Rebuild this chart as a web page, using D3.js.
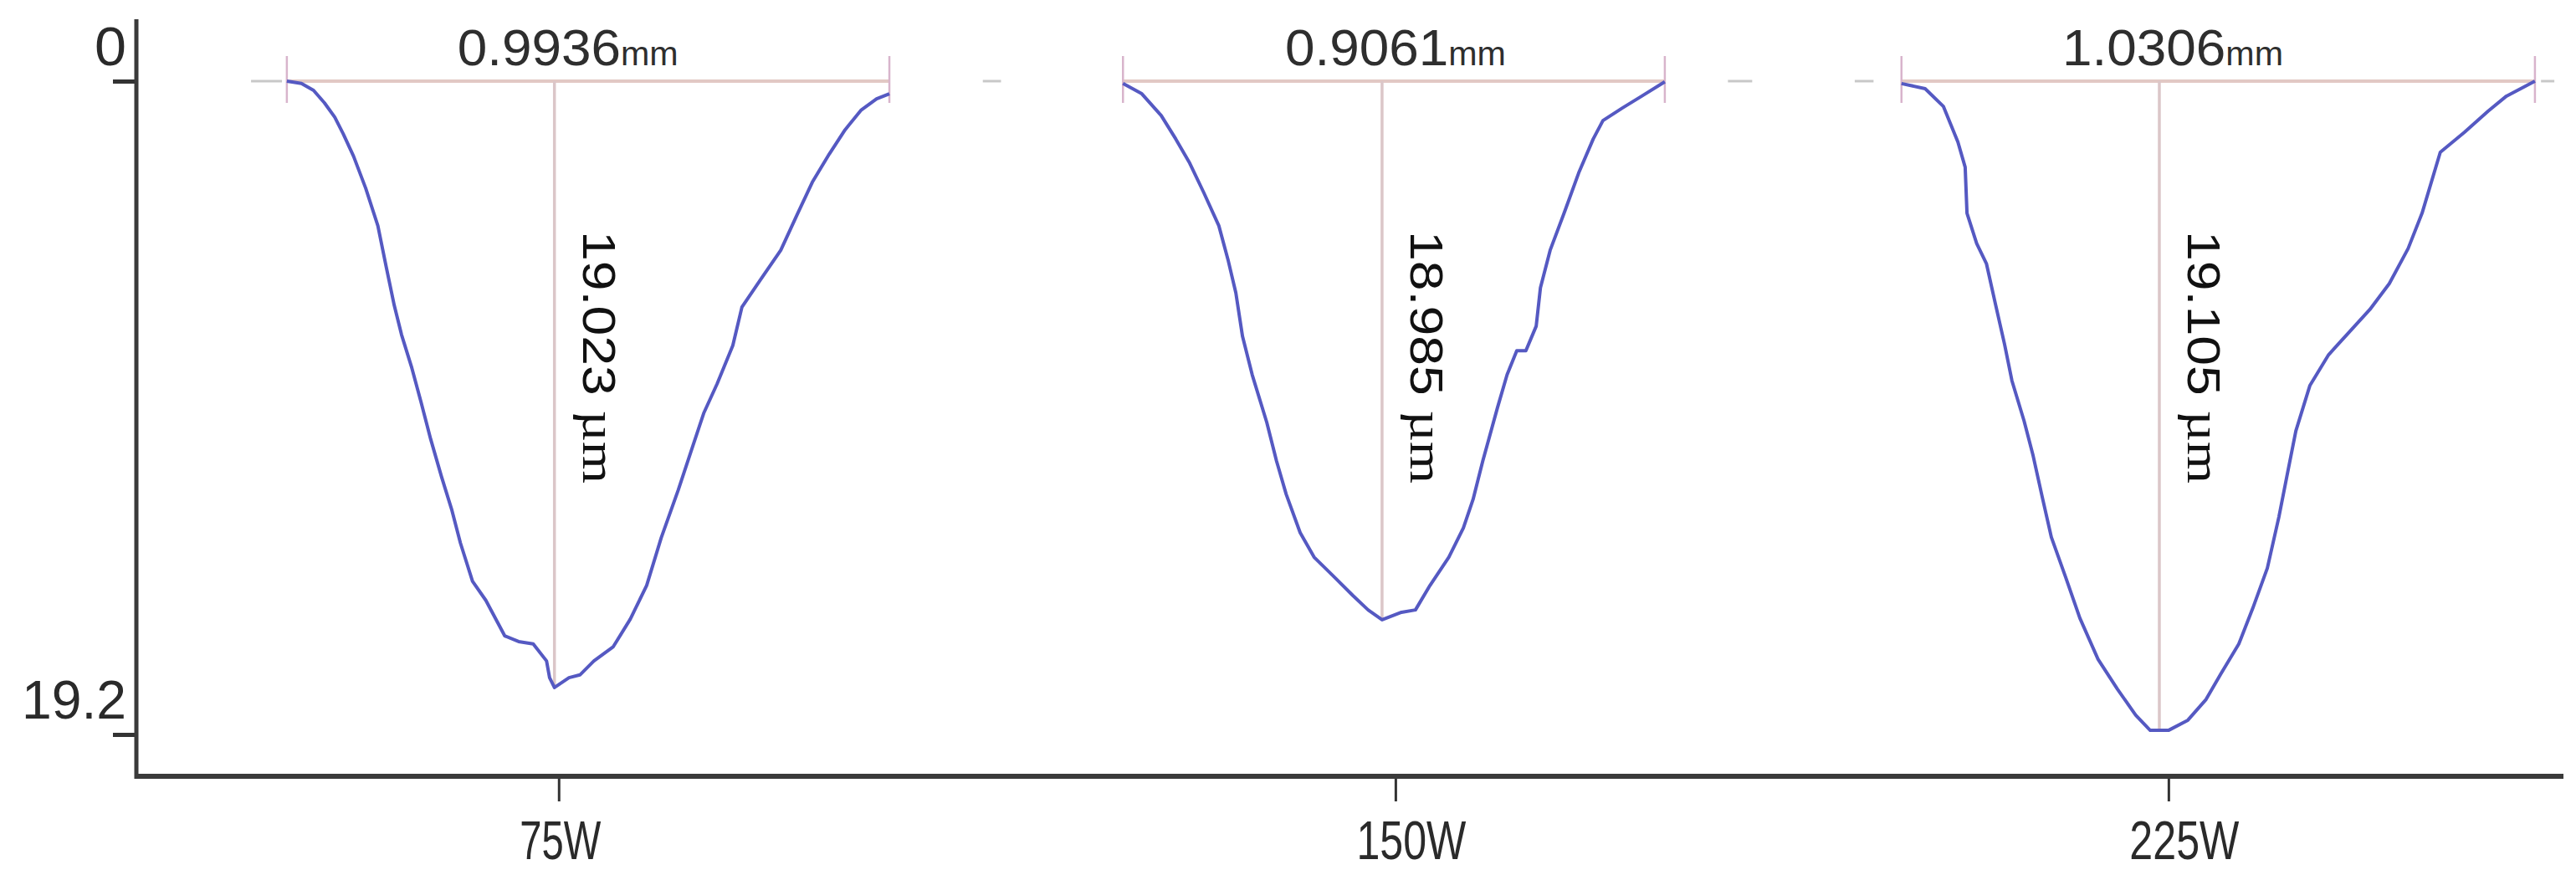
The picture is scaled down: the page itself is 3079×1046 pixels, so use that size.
<!DOCTYPE html>
<html>
<head>
<meta charset="utf-8">
<script src="https://cdn.jsdelivr.net/npm/d3@7"></script>
<style>
body { margin: 0; background: #fff; }
</style>
</head>
<body>
<script>
// laser power categories and where their ticks sit on the mm axis
var powers = ["75W", "150W", "225W"];
var powerTickMm = [0.696, 2.075, 3.349];
var yTicks = [0, 19.2];

// measured groove width (mm) and depth (um)
var widthLabels = ["0.9936", "0.9061", "1.0306"];
var depthLabels = ["19.023", "18.985", "19.105"];

// faint grey guide dashes on the zero line, [from mm, to mm]
var guideDashes = [[0.189, 0.240], [1.395, 1.425], [2.623, 2.663], [2.832, 2.863], [3.963, 3.985]];

// profiles: [position mm, depth um]
var profile75 = [[0.248,0.00],[0.272,0.07],[0.292,0.27],[0.310,0.64],[0.327,1.06],[0.341,1.55],
	[0.358,2.21],[0.378,3.15],[0.398,4.25],[0.412,5.48],[0.425,6.59],[0.437,7.45],[0.454,8.43],
	[0.469,9.42],[0.485,10.52],[0.503,11.63],[0.520,12.61],[0.534,13.57],[0.554,14.70],[0.576,15.26],
	[0.607,16.30],[0.630,16.47],[0.654,16.54],[0.676,17.04],[0.681,17.53],[0.689,17.82],[0.713,17.53],
	[0.731,17.45],[0.754,17.04],[0.786,16.62],[0.814,15.81],[0.841,14.82],[0.865,13.42],[0.893,12.02],
	[0.914,10.89],[0.935,9.76],[0.957,8.90],[0.983,7.77],[0.998,6.64],[1.030,5.80],[1.062,4.97],
	[1.088,3.96],[1.114,2.97],[1.142,2.14],[1.168,1.43],[1.194,0.86],[1.220,0.52],[1.241,0.37]];

var profile150 = [[1.626,0.07],[1.657,0.37],[1.689,1.01],[1.713,1.70],[1.736,2.41],[1.759,3.27],
	[1.784,4.25],[1.799,5.24],[1.812,6.22],[1.823,7.50],[1.839,8.63],[1.863,10.03],[1.879,11.16],
	[1.895,12.14],[1.918,13.27],[1.941,13.99],[1.973,14.55],[2.005,15.12],[2.030,15.54],[2.053,15.83],
	[2.085,15.61],[2.108,15.54],[2.132,14.82],[2.163,13.99],[2.187,13.13],[2.203,12.29],[2.219,11.16],
	[2.243,9.61],[2.259,8.63],[2.275,7.92],[2.290,7.92],[2.307,7.20],[2.314,6.07],[2.330,4.97],
	[2.354,3.83],[2.377,2.70],[2.401,1.70],[2.417,1.16],[2.449,0.79],[2.481,0.44],[2.519,0.02]];

var profile225 = [[2.909,0.07],[2.948,0.22],[2.978,0.74],[3.002,1.79],[3.014,2.53],[3.017,3.88],
	[3.033,4.77],[3.049,5.36],[3.064,6.56],[3.079,7.74],[3.091,8.80],[3.111,9.98],[3.126,11.01],
	[3.141,12.22],[3.156,13.40],[3.180,14.60],[3.203,15.78],[3.233,16.99],[3.265,17.87],[3.295,18.63],
	[3.319,19.08],[3.349,19.08],[3.381,18.78],[3.411,18.17],[3.435,17.43],[3.465,16.54],[3.488,15.49],
	[3.512,14.31],[3.531,12.81],[3.544,11.63],[3.559,10.28],[3.582,8.95],[3.613,8.04],[3.643,7.45],
	[3.681,6.71],[3.713,5.95],[3.744,4.92],[3.767,3.88],[3.797,2.09],[3.837,1.50],[3.876,0.88],
	[3.906,0.44],[3.953,0.00]];

var profiles = [profile75, profile150, profile225];

var W = 3079, H = 1046;
var svg = d3.select("body").append("svg")
	.attr("width", W)
	.attr("height", H)
	.style("font-family", "'Liberation Sans', Arial, sans-serif");

var x = d3.scaleLinear().domain([0, 4]).range([163, 3064]);
var y = d3.scaleLinear().domain([0, 19.2]).range([97, 878]);
var axisY = 928;

// y axis
var gy = svg.append("g")
	.attr("transform", "translate(163,0)")
	.call(d3.axisLeft(y).tickValues(yTicks).tickSize(28).tickFormat(function (d) { return d === 0 ? "0" : "19.2"; }));
gy.select(".domain").remove();
gy.selectAll(".tick line").attr("stroke", "#333").attr("stroke-width", 5);
gy.selectAll(".tick text")
	.attr("x", -12)
	.attr("dy", -20)
	.attr("fill", "#2a2a2a")
	.style("font-size", "64px")
	.attr("textLength", function (d) { return d === 0 ? 38 : 125; })
	.attr("lengthAdjust", "spacingAndGlyphs");

svg.append("line")
	.attr("x1", 163).attr("x2", 163)
	.attr("y1", 23).attr("y2", axisY + 3)
	.attr("stroke", "#3a3a3a").attr("stroke-width", 5);

// x axis
var gx = svg.append("g")
	.attr("transform", "translate(0," + axisY + ")")
	.call(d3.axisBottom(x).tickValues(powerTickMm).tickSize(30).tickFormat(function (d, i) { return powers[i]; }));
gx.select(".domain").remove();
gx.selectAll(".tick line").attr("stroke", "#333").attr("stroke-width", 3);
gx.selectAll(".tick text")
	.attr("y", 99)
	.attr("dy", null)
	.attr("x", -47)
	.attr("text-anchor", "start")
	.attr("fill", "#2a2a2a")
	.style("font-size", "64px")
	.attr("textLength", function (d, i) { return powers[i].length === 3 ? 97 : 131; })
	.attr("lengthAdjust", "spacingAndGlyphs");

svg.append("line")
	.attr("x1", 161).attr("x2", 3064)
	.attr("y1", axisY).attr("y2", axisY)
	.attr("stroke", "#3a3a3a").attr("stroke-width", 6);

// guide dashes
svg.selectAll(".guide")
	.data(guideDashes)
	.enter()
	.append("line")
	.attr("class", "guide")
	.attr("x1", function (d) { return x(d[0]); })
	.attr("x2", function (d) { return x(d[1]); })
	.attr("y1", y(0)).attr("y2", y(0))
	.attr("stroke", "#c8c8c8").attr("stroke-width", 3);

var line = d3.line()
	.x(function (d) { return x(d[0]); })
	.y(function (d) { return y(d[1]); });

profiles.forEach(function (p, i) {
	var first = p[0], last = p[p.length - 1];
	var maxD = d3.max(p, function (d) { return d[1]; });
	var mid = d3.mean(p.filter(function (d) { return d[1] === maxD; }), function (d) { return d[0]; });
	var g = svg.append("g");

	// width measurement line
	g.append("line")
		.attr("x1", x(first[0])).attr("x2", x(last[0]))
		.attr("y1", y(0)).attr("y2", y(0))
		.attr("stroke", "#e2c8c4").attr("stroke-width", 4);

	// end markers
	[first[0], last[0]].forEach(function (v) {
		g.append("line")
			.attr("x1", x(v)).attr("x2", x(v))
			.attr("y1", y(0) - 30).attr("y2", y(0) + 26)
			.attr("stroke", "#d8b4cc").attr("stroke-width", 2.5);
	});

	// depth measurement line
	g.append("line")
		.attr("x1", x(mid)).attr("x2", x(mid))
		.attr("y1", y(0)).attr("y2", y(maxD))
		.attr("stroke", "#dbc6c8").attr("stroke-width", 3.5);

	// profile trace
	g.append("path")
		.datum(p)
		.attr("d", line)
		.attr("fill", "none")
		.attr("stroke", "#5559c2")
		.attr("stroke-width", 4)
		.attr("stroke-linejoin", "round");

	// width label
	var wt = g.append("text")
		.attr("x", x(mid) + 16)
		.attr("y", 78)
		.attr("text-anchor", "middle")
		.attr("fill", "#2e2e2e")
		.attr("textLength", 264)
		.attr("lengthAdjust", "spacingAndGlyphs");
	wt.append("tspan").style("font-size", "62px").text(widthLabels[i]);
	wt.append("tspan").style("font-size", "40px").text("mm");

	// depth label, rotated
	var dt = g.append("text")
		.attr("transform", "translate(" + (x(mid) + 34) + ",276) rotate(90)")
		.attr("fill", "#111")
		.attr("textLength", 302)
		.attr("lengthAdjust", "spacingAndGlyphs");
	dt.append("tspan").style("font-size", "56px").text(depthLabels[i] + " ");
	dt.append("tspan").style("font-size", "56px").style("font-family", "'Liberation Serif', 'Times New Roman', serif").text("\u00b5m");
});
</script>
</body>
</html>
